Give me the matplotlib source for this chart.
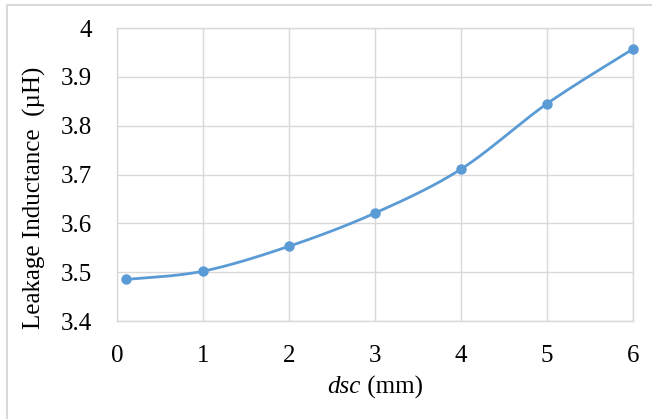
import numpy as np
import matplotlib
matplotlib.use("Agg")
import matplotlib.pyplot as plt
from matplotlib.lines import Line2D

# Leakage inductance versus dsc
dsc_mm = [0.1, 1, 2, 3, 4, 5, 6]
inductance_uH = [3.485, 3.502, 3.553, 3.621, 3.711, 3.845, 3.957]
x_ticks = [0, 1, 2, 3, 4, 5, 6]
y_ticks = [3.4, 3.5, 3.6, 3.7, 3.8, 3.9, 4.0]
y_tick_labels = ["3.4", "3.5", "3.6", "3.7", "3.8", "3.9", "4"]


def catmull_rom(xs, ys, n=40):
    """Smooth curve through the points (cubic Bezier segments, Catmull-Rom tangents)."""
    p = np.column_stack([xs, ys]).astype(float)
    ext = np.vstack([p[0], p, p[-1]])
    out = []
    t = np.linspace(0, 1, n)[:, None]
    for i in range(len(p) - 1):
        p0, p1, p2, p3 = ext[i], ext[i + 1], ext[i + 2], ext[i + 3]
        c1 = p1 + (p2 - p0) / 6.0
        c2 = p2 - (p3 - p1) / 6.0
        seg = ((1 - t) ** 3) * p1 + 3 * ((1 - t) ** 2) * t * c1 + 3 * (1 - t) * t ** 2 * c2 + t ** 3 * p2
        out.append(seg if i == 0 else seg[1:])
    out = np.vstack(out)
    return out[:, 0], out[:, 1]


plt.rcParams["font.family"] = ["Liberation Serif", "DejaVu Serif"]

W, H = 652, 419
fig = plt.figure(figsize=(W / 100, H / 100), dpi=100)
fig.patch.set_facecolor("white")

# chart frame
frame_color = "#D9D9D9"
fig.add_artist(Line2D([6.5 / W, 6.5 / W], [0, 1 - 5 / H], color=frame_color, lw=1.5, transform=fig.transFigure))
fig.add_artist(Line2D([6.5 / W, 1], [1 - 5 / H, 1 - 5 / H], color=frame_color, lw=1.5, transform=fig.transFigure))

left, right, top, bottom = 117, 633, 28, 321
ax = fig.add_axes([left / W, 1 - bottom / H, (right - left) / W, (bottom - top) / H])

grid_color = "#D9D9D9"
ax.set_xlim(0, 6)
ax.set_ylim(3.4, 4.0)
ax.set_xticks(x_ticks)
ax.set_yticks(y_ticks)
ax.set_yticklabels(y_tick_labels)
ax.grid(True, color=grid_color, lw=1.0)
ax.set_axisbelow(True)
for s in ax.spines.values():
    s.set_color(grid_color)
    s.set_linewidth(1.0)
ax.tick_params(length=0, labelsize=18, colors="#000000")
ax.tick_params(axis="x", pad=17)
ax.tick_params(axis="y", pad=18)

sx, sy = catmull_rom(dsc_mm, inductance_uH)
line_color = "#5B9BD5"
ax.plot(sx, sy, color=line_color, lw=2.0, solid_capstyle="round", clip_on=False, zorder=3)
ax.plot(dsc_mm, inductance_uH, "o", color=line_color, ms=6.5, clip_on=False, zorder=4)

# axis titles
fig.text(34 / W, 1 - 198 / H, "Leakage Inductance  (µH)", rotation=90,
         fontsize=18, ha="center", va="center")

t1 = fig.text(0, 0, "dsc", style="italic", fontsize=18, ha="right", va="center")
t2 = fig.text(0, 0, " (mm)", fontsize=18, ha="left", va="center")
fig.canvas.draw()
r = fig.canvas.get_renderer()
w1 = t1.get_window_extent(r).width
w2 = t2.get_window_extent(r).width
cx = (left + right) / 2 + (w1 - w2) / 2
ypos = 1 - 387 / H
t1.set_position((cx / W, ypos))
t2.set_position((cx / W, ypos))

fig.savefig("out.png", dpi=100)
